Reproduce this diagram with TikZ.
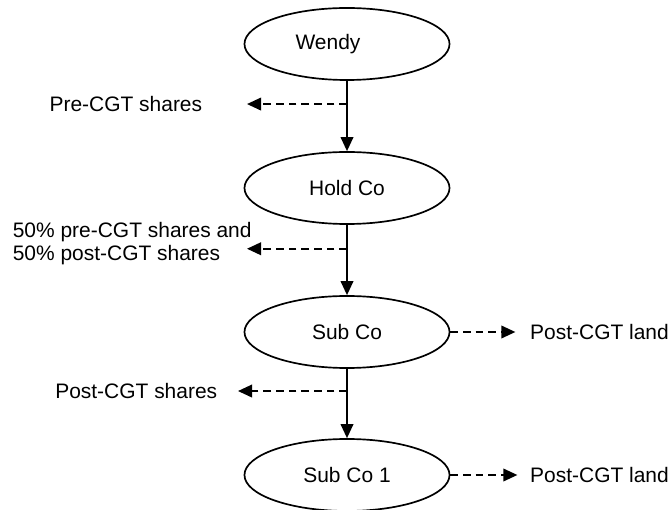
\documentclass[tikz,border=0pt]{standalone}
\usepackage{fontspec}
\setmainfont{Liberation Sans}
\usetikzlibrary{arrows.meta,positioning,calc,shapes.geometric}

\def\colx{347}

\begin{document}
\begin{tikzpicture}[x=0.025cm,y=-0.025cm,line width=1.2pt,
    font=\fontsize{14.9}{16.3}\selectfont]
    \tikzstyle{company}=[ellipse,draw,minimum width=5.125cm,minimum height=1.8cm,inner sep=0pt]
    \tikzstyle{own}=[-{Triangle[length=10pt,width=9pt]}]
    \tikzstyle{holds}=[-{Triangle[length=10pt,width=9pt]},dash pattern=on 5.5pt off 3.5pt]
    \tikzstyle{annot}=[inner sep=0pt,align=left]

    \useasboundingbox (0,0) rectangle (670,510);

    % Draw the companies
    \node[company] (W) at (\colx,44) {Wendy\kern0.95cm};
    \node[company] (H) at (\colx,188) {Hold Co};
    \node[company] (S) at (\colx,332) {Sub Co};
    \node[company] (S1) at (\colx,475) {Sub Co 1};

    % Ownership chain
    \draw[own] (W) -- (H);
    \draw[own] (H) -- (S);
    \draw[own] (S) -- (S1);

    % Branch points on the chain
    \coordinate (b1) at ($(W.south)!0.33!(H.north)$);
    \coordinate (b2) at ($(H.south)!0.34!(S.north)$);
    \coordinate (b3) at ($(S.south)!0.32!(S1.north)$);

    % Arrow tips of the dashed connectors
    \coordinate (t1) at (247,0 |- b1);
    \coordinate (t2) at (247,0 |- b2);
    \coordinate (t3) at (238,0 |- b3);
    \coordinate (t4) at ($(S.east)+(65,0)$);
    \coordinate (t5) at ($(S1.east)+(67,0)$);

    \draw[holds] (b1) -- (t1);
    \draw[holds] (b2) -- (t2);
    \draw[holds] (b3) -- (t3);
    \draw[holds] (S.east) -- (t4);
    \draw[holds] (S1.east) -- (t5);

    % Annotate the holdings
    \node[annot,left=1.1cm of t1] (l1) {Pre-CGT shares};
    \node[annot,anchor=west] (l2) at (12,244) {50\% pre-CGT shares and\\50\% post-CGT shares};
    \node[annot,left=0.5cm of t3] (l3) {Post-CGT shares};
    \node[annot,right=0.35cm of t4] (l4) {Post-CGT land};
    \node[annot,right=0.3cm of t5] (l5) {Post-CGT land};
\end{tikzpicture}
\end{document}
